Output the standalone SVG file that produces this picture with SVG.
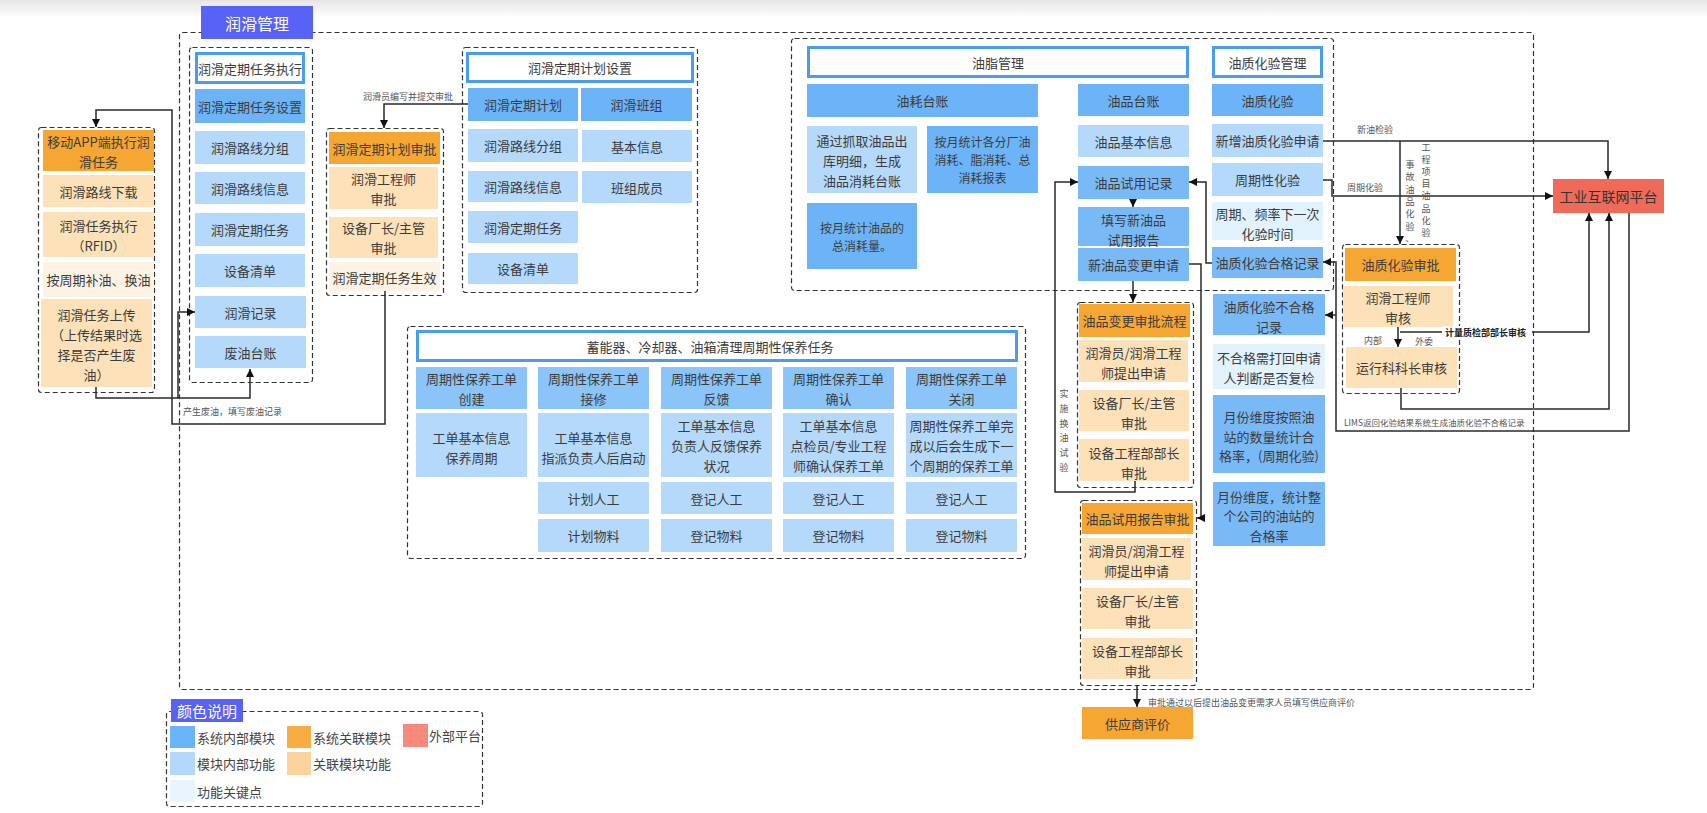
<svg xmlns="http://www.w3.org/2000/svg" width="1707" height="813" viewBox="0 0 1707 813">
<style>
.grp{fill:none;stroke:#333;stroke-width:1.2;stroke-dasharray:5 3}
.hdr{fill:#fff;stroke:#4a9cf0;stroke-width:3}
.mb{fill:#6cb4f7}
.mb2{fill:#78b9f6}
.mr{fill:#8ac4f8}
.lb{fill:#b4d9fb}
.vb{fill:#e3f3fd}
.or{fill:#f6a733}
.lo{fill:#fde1b8}
.vo{fill:#fdf2e3}
.rd{fill:#f06a5a}
.vi{fill:#5862f6}
text{font-family:"Noto Sans CJK SC","Noto Sans",sans-serif}
.t{font-size:13px;fill:#3c3c3c;text-anchor:middle;dominant-baseline:central}
.s{font-size:12px}
.w{fill:#fff}
.lbl{font-size:9px;fill:#555;dominant-baseline:central}
.vt{font-size:9px;fill:#555;text-anchor:middle;dominant-baseline:central}
.lg{font-size:13px;fill:#444;dominant-baseline:central}
.cn{fill:none;stroke:#2a2a2a;stroke-width:1.5}
</style>
<defs>
<marker id="arr" viewBox="0 0 8 8" refX="8" refY="4" markerWidth="8" markerHeight="8" markerUnits="userSpaceOnUse" orient="auto">
<path d="M0,0 L8,4 L0,8 z" fill="#111"/>
</marker>
<linearGradient id="topShade" x1="0" y1="0" x2="0" y2="1">
<stop offset="0" stop-color="#e6e6e6"/>
<stop offset="1" stop-color="#ffffff"/>
</linearGradient>
</defs>
<rect x="0" y="0" width="1707" height="813" fill="#fff"/>
<rect x="0" y="0" width="1707" height="18" fill="url(#topShade)"/>

<!-- dashed frames -->
<g id="frames">
<rect class="grp" x="179.5" y="32.5" width="1354" height="657" rx="3"/>
<rect class="grp" x="38.5" y="127.5" width="116" height="265" rx="3"/>
<rect class="grp" x="189.5" y="47.5" width="123" height="335" rx="3"/>
<rect class="grp" x="326.5" y="128.5" width="117" height="167" rx="3"/>
<rect class="grp" x="462.5" y="47.5" width="235" height="245" rx="3"/>
<rect class="grp" x="791.5" y="38.5" width="542" height="252" rx="3"/>
<rect class="grp" x="407.5" y="326.5" width="618" height="232" rx="3"/>
<rect class="grp" x="1077.5" y="302.5" width="116" height="185" rx="3"/>
<rect class="grp" x="1080.5" y="500.5" width="116" height="185" rx="3"/>
<rect class="grp" x="1342.5" y="244.5" width="117" height="149" rx="3"/>
</g>

<g id="n-title">
<rect class="vi" x="201" y="6" width="112" height="33"/>
<text class="t w" x="257" y="22.5" style="font-size:16px">润滑管理</text>
</g>

<!-- mobile execution -->
<g id="n-app">
<rect class="or" x="43" y="130" width="111" height="41"/>
<text class="t" x="98.5" y="141">移动APP端执行润</text>
<text class="t" x="98.5" y="161">滑任务</text>
</g>
<g id="n-app-route"><rect class="lo" x="43" y="175" width="111" height="32"/><text class="t" x="98.5" y="191">润滑路线下载</text></g>
<g id="n-app-exec"><rect class="lo" x="43" y="212" width="111" height="45"/><text class="t" x="98.5" y="225">润滑任务执行</text><text class="t" x="98.5" y="245">（RFID）</text></g>
<g id="n-app-refill"><rect class="vo" x="43" y="262" width="111" height="35"/><text class="t" x="98.5" y="279.5">按周期补油、换油</text></g>
<g id="n-app-upload">
<rect class="lo" x="41" y="299" width="111" height="88"/>
<text class="t" x="96.5" y="314">润滑任务上传</text>
<text class="t" x="96.5" y="334">（上传结果时选</text>
<text class="t" x="96.5" y="354">择是否产生废</text>
<text class="t" x="96.5" y="374">油）</text>
</g>

<!-- periodic task execution -->
<g id="n-exec-hdr"><rect class="hdr" x="196.5" y="53.5" width="107" height="29"/><text class="t" x="250" y="68">润滑定期任务执行</text></g>
<g id="n-exec-set"><rect class="mb" x="195" y="89" width="110" height="34"/><text class="t" x="250" y="106">润滑定期任务设置</text></g>
<g id="n-exec-group"><rect class="lb" x="195" y="131" width="110" height="33"/><text class="t" x="250" y="147.5">润滑路线分组</text></g>
<g id="n-exec-route"><rect class="lb" x="195" y="172" width="110" height="32"/><text class="t" x="250" y="188">润滑路线信息</text></g>
<g id="n-exec-task"><rect class="lb" x="195" y="213" width="110" height="33"/><text class="t" x="250" y="229.5">润滑定期任务</text></g>
<g id="n-exec-equip"><rect class="lb" x="195" y="254" width="110" height="33"/><text class="t" x="250" y="270.5">设备清单</text></g>
<g id="n-exec-record"><rect class="lb" x="195" y="296" width="111" height="32"/><text class="t" x="250.5" y="312">润滑记录</text></g>
<g id="n-exec-waste"><rect class="lb" x="195" y="336" width="111" height="32"/><text class="t" x="250.5" y="352">废油台账</text></g>

<!-- plan approval -->
<g id="n-plan-approve"><rect class="or" x="329" y="132" width="111" height="32"/><text class="t" x="384.5" y="148">润滑定期计划审批</text></g>
<g id="n-plan-eng"><rect class="lo" x="329" y="167" width="109" height="42"/><text class="t" x="383.5" y="178">润滑工程师</text><text class="t" x="383.5" y="198">审批</text></g>
<g id="n-plan-mgr"><rect class="lo" x="329" y="217" width="109" height="41"/><text class="t" x="383.5" y="227.5">设备厂长/主管</text><text class="t" x="383.5" y="247.5">审批</text></g>
<g id="n-plan-effect"><rect class="vo" x="329" y="262" width="111" height="29"/><text class="t" x="384.5" y="277">润滑定期任务生效</text></g>

<!-- plan settings -->
<g id="n-plan-hdr"><rect class="hdr" x="467.5" y="53.5" width="225" height="28"/><text class="t" x="580" y="67.5">润滑定期计划设置</text></g>
<g id="n-plan"><rect class="mb" x="468" y="88" width="110" height="33"/><text class="t" x="523" y="104.5">润滑定期计划</text></g>
<g id="n-team"><rect class="mb" x="581" y="88" width="111" height="33"/><text class="t" x="636.5" y="104.5">润滑班组</text></g>
<g id="n-plan-group"><rect class="lb" x="468" y="129" width="110" height="33"/><text class="t" x="523" y="145.5">润滑路线分组</text></g>
<g id="n-team-info"><rect class="lb" x="582" y="130" width="110" height="32"/><text class="t" x="637" y="146">基本信息</text></g>
<g id="n-plan-route"><rect class="lb" x="468" y="171" width="110" height="31"/><text class="t" x="523" y="186.5">润滑路线信息</text></g>
<g id="n-team-member"><rect class="lb" x="582" y="171" width="110" height="32"/><text class="t" x="637" y="187">班组成员</text></g>
<g id="n-plan-task"><rect class="lb" x="468" y="211" width="110" height="32"/><text class="t" x="523" y="227">润滑定期任务</text></g>
<g id="n-plan-equip"><rect class="lb" x="468" y="253" width="110" height="31"/><text class="t" x="523" y="268.5">设备清单</text></g>

<!-- grease management -->
<g id="n-grease-hdr"><rect class="hdr" x="808.5" y="47.5" width="379" height="29"/><text class="t" x="998" y="62">油脂管理</text></g>
<g id="n-consume"><rect class="mb" x="807" y="84" width="231" height="33"/><text class="t" x="922.5" y="100.5">油耗台账</text></g>
<g id="n-consume-detail"><rect class="lb" x="807" y="126" width="110" height="67"/><text class="t" x="862" y="140">通过抓取油品出</text><text class="t" x="862" y="160">库明细，生成</text><text class="t" x="862" y="180">油品消耗台账</text></g>
<g id="n-consume-report"><rect class="mb" x="927" y="126" width="111" height="67"/><text class="t s" x="982.5" y="141">按月统计各分厂油</text><text class="t s" x="982.5" y="159">消耗、脂消耗、总</text><text class="t s" x="982.5" y="177">消耗报表</text></g>
<g id="n-consume-total"><rect class="mb" x="807" y="203" width="110" height="66"/><text class="t s" x="862" y="227">按月统计油品的</text><text class="t s" x="862" y="245">总消耗量。</text></g>
<g id="n-oil"><rect class="mb" x="1078" y="84" width="111" height="32"/><text class="t" x="1133.5" y="100">油品台账</text></g>
<g id="n-oil-info"><rect class="lb" x="1078" y="125" width="111" height="32"/><text class="t" x="1133.5" y="141">油品基本信息</text></g>
<g id="n-oil-trial"><rect class="mb2" x="1078" y="166" width="111" height="33"/><text class="t" x="1133.5" y="182.5">油品试用记录</text></g>
<g id="n-oil-report"><rect class="mb2" x="1078" y="207" width="111" height="39"/><text class="t" x="1133.5" y="219.5">填写新油品</text><text class="t" x="1133.5" y="239">试用报告</text></g>
<g id="n-oil-change"><rect class="mb2" x="1078" y="248" width="111" height="33"/><text class="t" x="1133.5" y="264.5">新油品变更申请</text></g>

<!-- oil quality test -->
<g id="n-test-hdr"><rect class="hdr" x="1213.5" y="47.5" width="108" height="29"/><text class="t" x="1267.5" y="62">油质化验管理</text></g>
<g id="n-test"><rect class="mb" x="1212" y="84" width="111" height="32"/><text class="t" x="1267.5" y="100">油质化验</text></g>
<g id="n-test-new"><rect class="lb" x="1212" y="124" width="111" height="33"/><text class="t" x="1267.5" y="140.5">新增油质化验申请</text></g>
<g id="n-test-cycle"><rect class="lb" x="1212" y="163" width="111" height="33"/><text class="t" x="1267.5" y="179.5">周期性化验</text></g>
<g id="n-test-freq"><rect class="vb" x="1212" y="202" width="111" height="38"/><text class="t" x="1267.5" y="213">周期、频率下一次</text><text class="t" x="1267.5" y="233">化验时间</text></g>
<g id="n-test-pass"><rect class="mb2" x="1212" y="247" width="111" height="31"/><text class="t" x="1267.5" y="262.5">油质化验合格记录</text></g>
<g id="n-test-fail"><rect class="mb2" x="1213" y="294" width="112" height="41"/><text class="t" x="1269" y="306">油质化验不合格</text><text class="t" x="1269" y="326">记录</text></g>
<g id="n-test-retest"><rect class="vb" x="1213" y="344" width="112" height="45"/><text class="t" x="1269" y="357">不合格需打回申请</text><text class="t" x="1269" y="377">人判断是否复检</text></g>
<g id="n-test-station"><rect class="mb2" x="1213" y="395" width="112" height="78"/><text class="t" x="1269" y="416">月份维度按照油</text><text class="t" x="1269" y="436">站的数量统计合</text><text class="t" x="1269" y="455.5">格率，(周期化验)</text></g>
<g id="n-test-company"><rect class="mb2" x="1213" y="482" width="112" height="64"/><text class="t" x="1269" y="496">月份维度，统计整</text><text class="t" x="1269" y="515.5">个公司的油站的</text><text class="t" x="1269" y="535">合格率</text></g>

<!-- oil change approval -->
<g id="n-chg"><rect class="or" x="1079" y="304" width="111" height="33"/><text class="t" x="1134.5" y="320.5">油品变更审批流程</text></g>
<g id="n-chg-apply"><rect class="lo" x="1079" y="340" width="109" height="42"/><text class="t" x="1133.5" y="352">润滑员/润滑工程</text><text class="t" x="1133.5" y="372">师提出申请</text></g>
<g id="n-chg-mgr"><rect class="lo" x="1079" y="390" width="110" height="41"/><text class="t" x="1134" y="402">设备厂长/主管</text><text class="t" x="1134" y="422">审批</text></g>
<g id="n-chg-head"><rect class="lo" x="1079" y="439" width="110" height="42"/><text class="t" x="1134" y="452">设备工程部部长</text><text class="t" x="1134" y="472">审批</text></g>

<!-- trial report approval -->
<g id="n-rpt"><rect class="or" x="1082" y="503" width="111" height="31"/><text class="t" x="1137.5" y="518.5">油品试用报告审批</text></g>
<g id="n-rpt-apply"><rect class="lo" x="1082" y="538" width="109" height="42"/><text class="t" x="1136.5" y="550">润滑员/润滑工程</text><text class="t" x="1136.5" y="570">师提出申请</text></g>
<g id="n-rpt-mgr"><rect class="lo" x="1082" y="588" width="111" height="41"/><text class="t" x="1137.5" y="600">设备厂长/主管</text><text class="t" x="1137.5" y="620">审批</text></g>
<g id="n-rpt-head"><rect class="lo" x="1082" y="638" width="111" height="41"/><text class="t" x="1137.5" y="650.5">设备工程部部长</text><text class="t" x="1137.5" y="670">审批</text></g>
<g id="n-supplier"><rect class="or" x="1082" y="707" width="111" height="32"/><text class="t" x="1137.5" y="723">供应商评价</text></g>

<!-- test approval -->
<g id="n-tap"><rect class="or" x="1345" y="248" width="111" height="33"/><text class="t" x="1400.5" y="264.5">油质化验审批</text></g>
<g id="n-tap-eng"><rect class="lo" x="1343" y="286" width="110" height="41"/><text class="t" x="1398" y="297.5">润滑工程师</text><text class="t" x="1398" y="317">审核</text></g>
<g id="n-tap-ops"><rect class="lo" x="1346" y="347" width="111" height="41"/><text class="t" x="1401.5" y="367.5">运行科科长审核</text></g>

<g id="n-platform"><rect class="rd" x="1553" y="179" width="111" height="34"/><text class="t" x="1608.5" y="196" style="font-size:14px;fill:#333">工业互联网平台</text></g>

<!-- periodic maintenance -->
<g id="n-mt-hdr"><rect class="hdr" x="417.5" y="331.5" width="599" height="29"/><text class="t" x="710" y="346">蓄能器、冷却器、油箱清理周期性保养任务</text></g>
<g id="n-mt-create"><rect class="mr" x="416" y="367" width="111" height="42"/><text class="t" x="471.5" y="378">周期性保养工单</text><text class="t" x="471.5" y="398">创建</text></g>
<g id="n-mt-accept"><rect class="mr" x="538" y="367" width="111" height="42"/><text class="t" x="593.5" y="378">周期性保养工单</text><text class="t" x="593.5" y="398">接修</text></g>
<g id="n-mt-feedback"><rect class="mr" x="661" y="367" width="111" height="42"/><text class="t" x="716.5" y="378">周期性保养工单</text><text class="t" x="716.5" y="398">反馈</text></g>
<g id="n-mt-confirm"><rect class="mr" x="783" y="367" width="111" height="42"/><text class="t" x="838.5" y="378">周期性保养工单</text><text class="t" x="838.5" y="398">确认</text></g>
<g id="n-mt-close"><rect class="mr" x="906" y="367" width="111" height="42"/><text class="t" x="961.5" y="378">周期性保养工单</text><text class="t" x="961.5" y="398">关闭</text></g>
<g id="n-mt-create-d"><rect class="lb" x="416" y="413" width="111" height="64"/><text class="t" x="471.5" y="437">工单基本信息</text><text class="t" x="471.5" y="457">保养周期</text></g>
<g id="n-mt-accept-d"><rect class="lb" x="538" y="413" width="111" height="64"/><text class="t" x="593.5" y="437">工单基本信息</text><text class="t" x="593.5" y="457">指派负责人后启动</text></g>
<g id="n-mt-feedback-d"><rect class="lb" x="661" y="413" width="111" height="64"/><text class="t" x="716.5" y="425">工单基本信息</text><text class="t" x="716.5" y="445">负责人反馈保养</text><text class="t" x="716.5" y="465">状况</text></g>
<g id="n-mt-confirm-d"><rect class="lb" x="783" y="413" width="111" height="64"/><text class="t" x="838.5" y="425">工单基本信息</text><text class="t" x="838.5" y="445">点检员/专业工程</text><text class="t" x="838.5" y="465">师确认保养工单</text></g>
<g id="n-mt-close-d"><rect class="lb" x="906" y="413" width="111" height="64"/><text class="t" x="961.5" y="425">周期性保养工单完</text><text class="t" x="961.5" y="445">成以后会生成下一</text><text class="t" x="961.5" y="465">个周期的保养工单</text></g>
<g id="n-mt-labor-2"><rect class="lb" x="538" y="482" width="111" height="32"/><text class="t" x="593.5" y="498">计划人工</text></g>
<g id="n-mt-labor-3"><rect class="lb" x="661" y="482" width="111" height="32"/><text class="t" x="716.5" y="498">登记人工</text></g>
<g id="n-mt-labor-4"><rect class="lb" x="783" y="482" width="111" height="32"/><text class="t" x="838.5" y="498">登记人工</text></g>
<g id="n-mt-labor-5"><rect class="lb" x="906" y="482" width="111" height="32"/><text class="t" x="961.5" y="498">登记人工</text></g>
<g id="n-mt-mat-2"><rect class="lb" x="538" y="519" width="111" height="33"/><text class="t" x="593.5" y="535.5">计划物料</text></g>
<g id="n-mt-mat-3"><rect class="lb" x="661" y="519" width="111" height="33"/><text class="t" x="716.5" y="535.5">登记物料</text></g>
<g id="n-mt-mat-4"><rect class="lb" x="783" y="519" width="111" height="33"/><text class="t" x="838.5" y="535.5">登记物料</text></g>
<g id="n-mt-mat-5"><rect class="lb" x="906" y="519" width="111" height="33"/><text class="t" x="961.5" y="535.5">登记物料</text></g>

<!-- connectors -->
<g id="connectors">
<path class="cn" d="M468,104 H384 V128" marker-end="url(#arr)"/>
<path class="cn" d="M385,291 V424 H172 V110 H96 V127" marker-end="url(#arr)"/>
<path class="cn" d="M96,387 V398 H250 V369" marker-end="url(#arr)"/>
<path class="cn" d="M178,398 V312 H195" marker-end="url(#arr)"/>
<path class="cn" d="M1133,199 V207" marker-end="url(#arr)"/>
<path class="cn" d="M1133,281 V302" marker-end="url(#arr)"/>
<path class="cn" d="M1135,481 V492 H1055 V182 H1078" marker-end="url(#arr)"/>
<path class="cn" d="M1189,264 H1201 V518 H1197" marker-end="url(#arr)"/>
<path class="cn" d="M1212,263 H1206 V182 H1189" marker-end="url(#arr)"/>
<path class="cn" d="M1323,141 H1608 V179" marker-end="url(#arr)"/>
<path class="cn" d="M1400,141 V244" marker-end="url(#arr)"/>
<path class="cn" d="M1323,180 H1332 V196 H1553" marker-end="url(#arr)"/>
<path class="cn" d="M1398,327 V347" marker-end="url(#arr)"/>
<path class="cn" d="M1400,332 H1589 V213" marker-end="url(#arr)"/>
<path class="cn" d="M1401,388 V409 H1609 V213" marker-end="url(#arr)"/>
<path class="cn" d="M1629,213 V431 H1336 V262 H1323" marker-end="url(#arr)"/>
<path class="cn" d="M1336,315 H1325" marker-end="url(#arr)"/>
<path class="cn" d="M1137,685 V707" marker-end="url(#arr)"/>
</g>

<!-- connector labels -->
<g id="connector-labels">
<text class="lbl" x="363" y="96">润滑员编写并提交审批</text>
<text class="lbl" x="183" y="411">产生废油，填写废油记录</text>
<text class="lbl" x="1357" y="129">新油检验</text>
<text class="lbl" x="1347" y="187">周期化验</text>
<text class="lbl" x="1364" y="340">内部</text>
<text class="lbl" x="1415" y="341">外委</text>
<rect x="1442" y="326" width="90" height="12" fill="#fff"/>
<text class="lbl" x="1445" y="332" style="fill:#222;font-weight:bold">计量质检部部长审核</text>
<text class="lbl" x="1344" y="422" style="font-size:8.5px">LIMS返回化验结果系统生成油质化验不合格记录</text>
<text class="lbl" x="1148" y="702">审批通过以后提出油品变更需求人员填写供应商评价</text>
<text class="vt"><tspan x="1410" y="164">事</tspan><tspan x="1410" y="176.3">故</tspan><tspan x="1410" y="188.6">油</tspan><tspan x="1410" y="200.9">品</tspan><tspan x="1410" y="213.2">化</tspan><tspan x="1410" y="225.5">验</tspan><tspan x="1410" y="237.8">、</tspan></text>
<text class="vt"><tspan x="1426" y="147">工</tspan><tspan x="1426" y="159.1">程</tspan><tspan x="1426" y="171.2">项</tspan><tspan x="1426" y="183.3">目</tspan><tspan x="1426" y="195.4">油</tspan><tspan x="1426" y="207.5">品</tspan><tspan x="1426" y="219.6">化</tspan><tspan x="1426" y="231.7">验</tspan></text>
<text class="vt"><tspan x="1064" y="393">实</tspan><tspan x="1064" y="407.8">施</tspan><tspan x="1064" y="422.6">换</tspan><tspan x="1064" y="437.4">油</tspan><tspan x="1064" y="452.2">试</tspan><tspan x="1064" y="467">验</tspan></text>
</g>

<!-- colour legend -->
<g id="legend">
<rect class="grp" x="166.5" y="711.5" width="316" height="95" rx="3"/>
<rect class="vi" x="171" y="699" width="72" height="23"/>
<text class="t w" x="207" y="710.5" style="font-size:15px">颜色说明</text>
<rect x="170" y="726" width="25" height="22" fill="#6ab4f8"/><text class="lg" x="197" y="737">系统内部模块</text>
<rect x="287" y="726" width="24" height="22" fill="#f7ad42"/><text class="lg" x="313" y="737">系统关联模块</text>
<rect x="403" y="724" width="25" height="23" fill="#f58a7c"/><text class="lg" x="429" y="735.5">外部平台</text>
<rect x="170" y="752" width="25" height="23" fill="#b3d8fb"/><text class="lg" x="197" y="763.5">模块内部功能</text>
<rect x="287" y="752" width="24" height="23" fill="#fbd49d"/><text class="lg" x="313" y="763.5">关联模块功能</text>
<rect x="170" y="780" width="25" height="22" fill="#eaf4fe"/><text class="lg" x="197" y="791">功能关键点</text>
</g>
</svg>
